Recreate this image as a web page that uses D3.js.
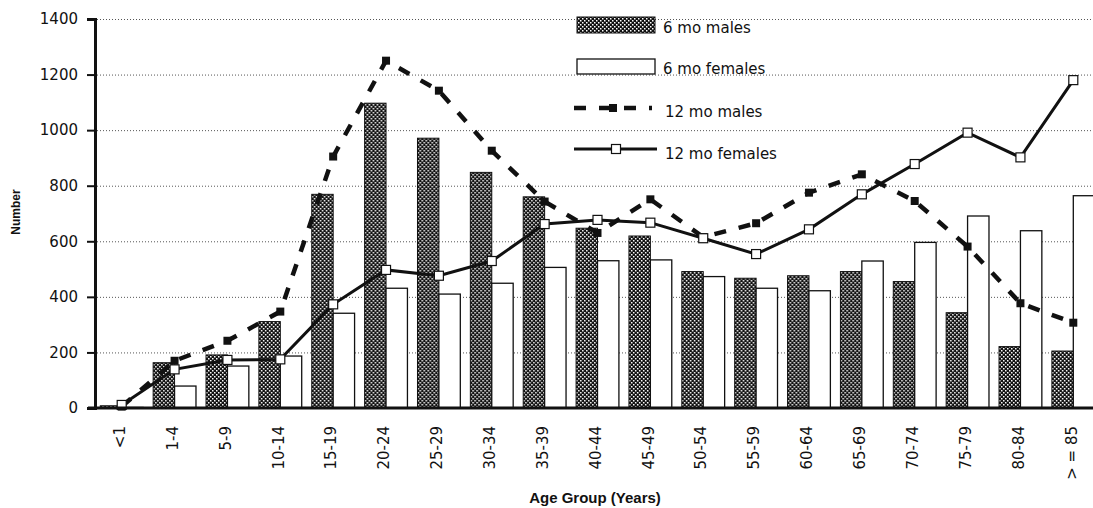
<!DOCTYPE html>
<html>
<head>
<meta charset="utf-8">
<script src="https://cdn.jsdelivr.net/npm/d3@7"></script>
<style>
  body { margin: 0; background: #fff; }
  text { font-family: "DejaVu Sans", sans-serif; fill: #111; }
  .title { font-family: "Liberation Sans", Arial, sans-serif; font-weight: bold; }
</style>
</head>
<body>
<div class="chartContainer"></div>
<script>
// ======= data ========
var ageGroups = ["<1","1-4","5-9","10-14","15-19","20-24","25-29","30-34","35-39","40-44",
                 "45-49","50-54","55-59","60-64","65-69","70-74","75-79","80-84","> = 85"];
var males6   = [8, 163, 191, 311, 769, 1097, 971, 848, 760, 647, 619, 491, 467, 476, 491, 455, 343, 221, 205];
var females6 = [2, 79, 151, 187, 341, 431, 410, 449, 506, 530, 533, 473, 431, 422, 529, 596, 691, 638, 764];
var males12  = [5, 170, 242, 347, 905, 1250, 1142, 926, 743, 630, 751, 615, 665, 775, 841, 745, 581, 377, 307];
var females12 = [11, 139, 173, 175, 373, 497, 476, 529, 662, 677, 667, 611, 554, 643, 769, 878, 991, 902, 1180];
var yTicks = [0, 200, 400, 600, 800, 1000, 1200, 1400];
var seriesNames = ["6 mo males", "6 mo females", "12 mo males", "12 mo females"];

var width = 1093;
var height = 508;

var svg = d3.select(".chartContainer")
  .append("svg")
    .attr("width", width)
    .attr("height", height);

// stipple fill for the dark bars
var pat = svg.append("defs").append("pattern")
    .attr("id", "stipple")
    .attr("patternUnits", "userSpaceOnUse")
    .attr("width", 4).attr("height", 4);
pat.append("rect").attr("width", 4).attr("height", 4).attr("fill", "#111");
pat.append("rect").attr("x", 0).attr("y", 0).attr("width", 1.5).attr("height", 1.5).attr("fill", "#fff");
pat.append("rect").attr("x", 2).attr("y", 2).attr("width", 1.5).attr("height", 1.5).attr("fill", "#fff");

// ======= scales ========
var x = d3.scaleBand()
    .domain(ageGroups)
    .range([95, 1100])
    .paddingInner(0.19)
    .paddingOuter(0.1);

var xSub = d3.scaleBand()
    .domain(["m", "f"])
    .range([0, x.bandwidth()]);

var y = d3.scaleLinear()
    .domain([0, 1400])
    .range([408, 19]);

function cx(i) { return x(ageGroups[i]) + x.bandwidth() / 2; }

// ======= grid ========
svg.append("g").selectAll("line")
    .data(yTicks.filter(function(d){ return d > 0; }))
  .enter().append("line")
    .attr("x1", 97).attr("x2", width)
    .attr("y1", function(d){ return y(d) + 0.5; })
    .attr("y2", function(d){ return y(d) + 0.5; })
    .style("stroke", "#555")
    .style("stroke-width", 1)
    .style("stroke-dasharray", "1,2");

// ======= bars ========
var groups = svg.append("g").selectAll(".grp")
    .data(ageGroups)
  .enter().append("g")
    .attr("class", "grp")
    .attr("transform", function(d){ return "translate(" + x(d) + ",0)"; });

groups.append("rect")
    .attr("x", xSub("m"))
    .attr("width", xSub.bandwidth())
    .attr("y", function(d,i){ return y(males6[i]); })
    .attr("height", function(d,i){ return y(0) - y(males6[i]); })
    .style("fill", "url(#stipple)")
    .style("stroke", "#111")
    .style("stroke-width", 1);

groups.append("rect")
    .attr("x", xSub("f"))
    .attr("width", xSub.bandwidth())
    .attr("y", function(d,i){ return y(females6[i]); })
    .attr("height", function(d,i){ return y(0) - y(females6[i]); })
    .style("fill", "#fff")
    .style("stroke", "#111")
    .style("stroke-width", 1.3);

// ======= lines ========
var line = d3.line()
    .x(function(d,i){ return cx(i); })
    .y(function(d){ return y(d); });

svg.append("path")
    .datum(males12)
    .attr("d", line)
    .style("fill", "none")
    .style("stroke", "#111")
    .style("stroke-width", 4.5)
    .style("stroke-dasharray", "12,13");

svg.append("g").selectAll("rect")
    .data(males12)
  .enter().append("rect")
    .attr("x", function(d,i){ return cx(i) - 4; })
    .attr("y", function(d){ return y(d) - 4; })
    .attr("width", 8).attr("height", 8)
    .style("fill", "#111");

svg.append("path")
    .datum(females12)
    .attr("d", line)
    .style("fill", "none")
    .style("stroke", "#111")
    .style("stroke-width", 3);

svg.append("g").selectAll("rect")
    .data(females12)
  .enter().append("rect")
    .attr("x", function(d,i){ return cx(i) - 4.5; })
    .attr("y", function(d){ return y(d) - 4.5; })
    .attr("width", 9).attr("height", 9)
    .style("fill", "#fff")
    .style("stroke", "#111")
    .style("stroke-width", 1.2);

// ======= axes ========
var yAxis = svg.append("g")
    .attr("transform", "translate(95,0)")
    .call(d3.axisLeft(y).tickValues(yTicks).tickFormat(d3.format("d")).tickSize(8).tickPadding(9));
yAxis.select(".domain").style("stroke", "#111").style("stroke-width", 3);
yAxis.selectAll(".tick line").style("stroke", "#111").style("stroke-width", 2);
yAxis.selectAll(".tick text")
    .style("font-family", "DejaVu Sans, sans-serif")
    .style("font-size", "15px");

svg.append("line")
    .attr("x1", 88).attr("x2", width)
    .attr("y1", y(0)).attr("y2", y(0))
    .style("stroke", "#111")
    .style("stroke-width", 3);

svg.append("g").selectAll("text")
    .data(ageGroups)
  .enter().append("text")
    .attr("transform", function(d,i){ return "translate(" + (cx(i) - 2) + ",426) rotate(-90)"; })
    .attr("text-anchor", "end")
    .attr("dy", "0.35em")
    .style("font-size", "15px")
    .text(function(d){ return d; });

svg.append("text")
    .attr("class", "title")
    .attr("x", 595).attr("y", 503)
    .attr("text-anchor", "middle")
    .style("font-size", "15px")
    .text("Age Group (Years)");

svg.append("text")
    .attr("class", "title")
    .attr("transform", "translate(20,212) rotate(-90)")
    .attr("text-anchor", "middle")
    .style("font-size", "12px")
    .text("Number");

// ======= legend ========
var legend = svg.append("g");

legend.append("rect")
    .attr("x", 577).attr("y", 17).attr("width", 78).attr("height", 16)
    .style("fill", "url(#stipple)").style("stroke", "#111");
legend.append("rect")
    .attr("x", 577).attr("y", 59).attr("width", 78).attr("height", 15)
    .style("fill", "#fff").style("stroke", "#111").style("stroke-width", 1.3);

legend.append("line")
    .attr("x1", 574).attr("x2", 652).attr("y1", 108).attr("y2", 108)
    .style("stroke", "#111").style("stroke-width", 4.5)
    .style("stroke-dasharray", "12,13");
legend.append("rect")
    .attr("x", 609).attr("y", 104).attr("width", 8).attr("height", 8)
    .style("fill", "#111");

legend.append("line")
    .attr("x1", 574).attr("x2", 657).attr("y1", 149).attr("y2", 149)
    .style("stroke", "#111").style("stroke-width", 3);
legend.append("rect")
    .attr("x", 611.5).attr("y", 144.5).attr("width", 9).attr("height", 9)
    .style("fill", "#fff").style("stroke", "#111").style("stroke-width", 1.2);

legend.selectAll(".legText")
    .data(seriesNames)
  .enter().append("text")
    .attr("class", "legText")
    .attr("x", function(d,i){ return i < 2 ? 663 : 665; })
    .attr("y", function(d,i){ return [33, 74, 117, 159][i]; })
    .style("font-size", "15px")
    .text(function(d){ return d; });
</script>
</body>
</html>
